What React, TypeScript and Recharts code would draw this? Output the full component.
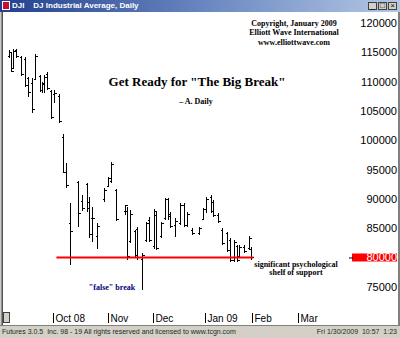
import React from 'react';
import { ComposedChart, Bar, XAxis, YAxis, ReferenceLine } from 'recharts';

// trading-day index, 0 = Oct 1 2008
const dayIndex = [-19, -18, -17, -16, -14, -12, -11, -9, -8, -6, -5, -4, -3, -1, 0, 2, 4, 5, 7, 10, 12, 14, 15, 16, 18, 21, 23, 24, 26, 30, 31, 32, 34, 35, 37, 39, 40, 42, 43, 45, 47, 48, 49, 51, 53, 55, 56, 58, 61, 63, 64, 66, 67, 69, 71, 73, 74, 76, 77, 78, 80, 82, 83];
const opens = [114300, 115000, 112400, 115400, 114200, 113900, 110600, 109800, 110500, 110900, 108500, 109700, 111300, 108400, 107900, 107600, 100600, 94500, 85800, 92800, 89600, 92500, 89500, 86700, 83700, 90000, 92200, 93100, 91500, 88000, 88000, 82800, 84500, 84900, 79800, 82900, 86400, 81900, 87300, 83600, 86700, 89900, 87500, 85500, 85900, 88900, 85500, 84700, 84100, 86600, 88300, 90400, 89500, 87300, 84700, 84100, 83000, 79500, 81900, 80300, 81800, 81600, 81500];
const highs = [115400, 115100, 115600, 115600, 114400, 114200, 110800, 110600, 114700, 111100, 109900, 111100, 111600, 108600, 108600, 107900, 101100, 96100, 89300, 93100, 90700, 92700, 90300, 88600, 85900, 91900, 93700, 96300, 91700, 89000, 88600, 88100, 84700, 85200, 80800, 86100, 86900, 88300, 87800, 86100, 90200, 90200, 87800, 86700, 89300, 89300, 87800, 85000, 85200, 88400, 90300, 90700, 89800, 87600, 85000, 84400, 83300, 83000, 82100, 82100, 82100, 83700, 81800];
const lows = [114000, 111600, 112200, 114000, 111000, 109100, 107400, 104700, 110300, 108200, 108100, 108100, 108600, 103600, 106400, 102900, 94400, 91900, 78700, 85200, 88000, 87700, 83300, 82600, 81500, 89500, 92000, 92700, 86200, 87300, 79600, 82500, 80100, 79600, 74500, 82600, 82600, 81500, 81300, 83300, 86400, 86400, 85000, 83500, 85500, 85200, 85200, 83800, 83800, 86400, 87600, 87600, 86900, 85900, 82100, 81000, 79200, 79200, 79200, 80100, 80800, 81300, 79600];
const closes = [115100, 111800, 115300, 114300, 111300, 109500, 108200, 105300, 114400, 108600, 109600, 110800, 108900, 103900, 108100, 103300, 94600, 92300, 84500, 87600, 88400, 88400, 84000, 86700, 85300, 91500, 93500, 96000, 86600, 88900, 80200, 87500, 80500, 80000, 80400, 85800, 83000, 87900, 81700, 85900, 89900, 87000, 85300, 86300, 88900, 85600, 87400, 84100, 85000, 88200, 90000, 88000, 87200, 86200, 82400, 81300, 79500, 82600, 79600, 81800, 81100, 83400, 80000];

const monthTicks = [0, 23, 42, 64, 84, 103];
const monthLabels = ['Oct 08', 'Nov', 'Dec', 'Jan 09', 'Feb', 'Mar'];
const priceTicks = [75000, 80000, 85000, 90000, 95000, 100000, 105000, 110000, 115000, 120000];
const supportLevel = 80000;
const supportFrom = 1;
const supportTo = 84;

const FIRST_DAY = -21;
const LAST_DAY = 125;

const data: any[] = [];
for (let d = FIRST_DAY; d <= LAST_DAY; d++) {
  const k = dayIndex.indexOf(d);
  if (k < 0) data.push({ day: d, range: null });
  else data.push({ day: d, range: [lows[k], highs[k]], open: opens[k], high: highs[k], low: lows[k], close: closes[k] });
}

const serif = '"Liberation Serif", "Times New Roman", serif';
const sans = '"Liberation Sans", Arial, sans-serif';

function OhlcBar(props: any) {
  const { x, y, width, height, payload } = props;
  if (!payload || payload.range == null || isNaN(y)) return null;
  const top = Math.min(y, y + height);
  const h = Math.abs(height);
  const span = payload.high - payload.low || 1;
  const cx = Math.round(x + width / 2) + 0.5;
  const oy = Math.round(top + ((payload.high - payload.open) / span) * h) + 0.5;
  const cy = Math.round(top + ((payload.high - payload.close) / span) * h) + 0.5;
  return (
    <g stroke="#000" strokeWidth={1} shapeRendering="crispEdges">
      <line x1={cx} x2={cx} y1={top} y2={top + h} />
      <line x1={cx - 2} x2={cx} y1={oy} y2={oy} />
      <line x1={cx} x2={cx + 2} y1={cy} y2={cy} />
    </g>
  );
}

function MonthTick(props: any) {
  const { x, payload } = props;
  const k = monthTicks.indexOf(payload.value);
  if (k < 0) return null;
  const lx = Math.round(x) - 0.5;
  return (
    <g>
      <line x1={lx} x2={lx} y1={300} y2={310} stroke="#000" />
      <text x={lx + 2} y={309} fontFamily={sans} fontSize={10} fill="#000">{monthLabels[k]}</text>
    </g>
  );
}

function PriceTick(props: any) {
  const { y, payload } = props;
  const isSupport = payload.value === supportLevel;
  return (
    <g>
      {isSupport && <rect x={352} y={y - 4} width={45} height={8} fill="#ff0000" />}
      {isSupport && <line x1={349} x2={353} y1={y + 0.5} y2={y + 0.5} stroke="#000" />}
      <text x={397} y={y + 4} textAnchor="end" fontFamily={sans} fontSize={11} fill={isSupport ? '#fff' : '#000'}>
        {payload.value}
      </text>
    </g>
  );
}

export default function App() {
  return (
    <div style={{ position: 'fixed', left: 0, top: 0, width: 400, height: 338, background: '#d4d0c8', overflow: 'hidden' }}>
      {/* title bar */}
      <div style={{ position: 'absolute', left: 0, top: 0, width: 400, height: 12, background: 'linear-gradient(90deg, #22408e 0%, #6f8cc4 55%, #b4c8e4 100%)' }}>
        <div style={{ position: 'absolute', left: 2, top: 1, width: 8, height: 9, background: '#c8102e', border: '1px solid #fff', boxSizing: 'border-box' }} />
        <div style={{ position: 'absolute', left: 12, top: 0, fontFamily: sans, fontSize: 8, fontWeight: 'bold', color: '#fff', lineHeight: '12px', whiteSpace: 'pre' }}>
          {'DJI    DJ Industrial Average, Daily'}
        </div>
        {['_', '□', '×'].map((g, i) => (
          <div key={g} style={{ position: 'absolute', left: 368 + i * 10, top: 2, width: 9, height: 8, background: '#d4d0c8', border: '1px solid #404040', boxSizing: 'border-box', fontFamily: sans, fontSize: 8, lineHeight: '6px', textAlign: 'center', color: '#000' }}>{g}</div>
        ))}
      </div>
      {/* client area */}
      <div style={{ position: 'absolute', left: 0, top: 12, width: 400, height: 313, background: '#fff' }}>
        <div style={{ position: 'absolute', top: 1 }}>
          <ComposedChart width={400} height={312} data={data} margin={{ top: 1, right: 0, left: 3, bottom: 0 }} barCategoryGap={0}>
            <XAxis dataKey="day" type="category" interval={0} height={15} axisLine={false} tickLine={false} tick={<MonthTick />} />
            <YAxis orientation="right" width={48} domain={[71040, 121540]} ticks={priceTicks} axisLine={false} tickLine={false} tick={<PriceTick />} allowDataOverflow />
            <ReferenceLine segment={[{ x: supportFrom, y: supportLevel }, { x: supportTo, y: supportLevel }]} stroke="#ff0000" strokeWidth={2} />
            <Bar dataKey="range" barSize={2} shape={<OhlcBar />} isAnimationActive={false} />
          </ComposedChart>
        </div>
        <svg width={400} height={313} style={{ position: 'absolute', left: 0, top: 0, pointerEvents: 'none' }}>
          <g fontFamily={serif} fontWeight="bold" fill="#000" textAnchor="middle">
            <text x={294} y={14} fontSize={8}>Copyright, January 2009</text>
            <text x={294} y={23} fontSize={8}>Elliott Wave International</text>
            <text x={294} y={33} fontSize={8}>www.elliottwave.com</text>
            <text x={197} y={74} fontSize={13}>Get Ready for "The Big Break"</text>
            <text x={196} y={92} fontSize={8}>– A. Daily</text>
            <text x={296} y={255} fontSize={8}>significant psychological</text>
            <text x={296} y={263} fontSize={8}>shelf of support</text>
            <text x={112} y={278} fontSize={8} fill="#000080">"false" break</text>
          </g>
          <rect x={3.5} y={300.5} width={6} height={10} fill="#d4d0c8" stroke="#404040" />
        </svg>
      </div>
      {/* frame */}
      <div style={{ position: 'absolute', left: 0, top: 12, width: 3, height: 313, background: 'linear-gradient(90deg, #e8e8e8, #808080 60%, #303030)' }} />
      <div style={{ position: 'absolute', left: 398, top: 12, width: 2, height: 313, background: '#808080' }} />
      {/* status bar */}
      <div style={{ position: 'absolute', left: 0, top: 325, width: 400, height: 13, borderTop: '1px solid #808080', boxSizing: 'border-box', fontFamily: sans, fontSize: 7, color: '#1a2a1a', lineHeight: '12px', whiteSpace: 'pre' }}>
        <span style={{ position: 'absolute', left: 2 }}>Futures 3.0.5  Inc. 98 - 19 All rights reserved and licensed to www.tcgn.com</span>
        <span style={{ position: 'absolute', right: 3 }}>Fri 1/30/2009  10:57  1:23</span>
      </div>
    </div>
  );
}
